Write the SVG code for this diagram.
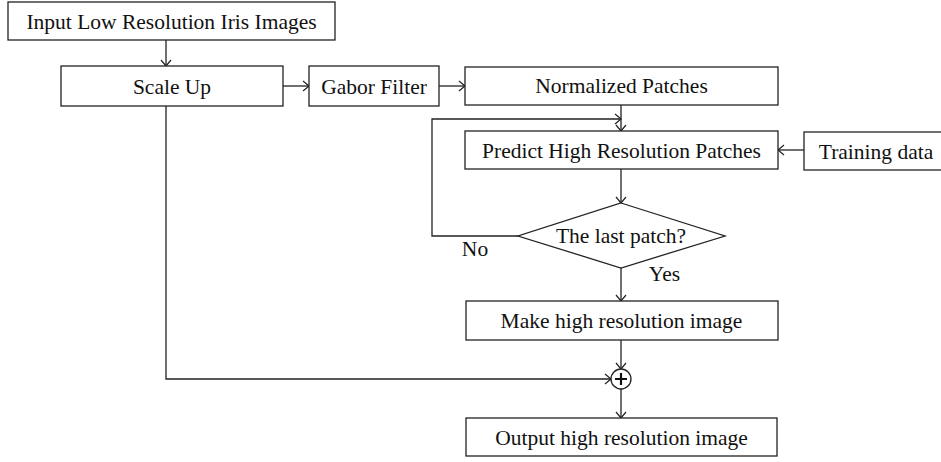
<svg xmlns="http://www.w3.org/2000/svg" width="941" height="462" viewBox="0 0 941 462">
<defs>
<marker id="arr" viewBox="-8 -6 10 12" refX="0" refY="0" markerWidth="10" markerHeight="12" markerUnits="userSpaceOnUse" orient="auto">
<path d="M-6,-5 L0,0 L-6,5" fill="none" stroke="#222" stroke-width="1.2"/>
</marker>
</defs>
<style>
.box{fill:#fff;stroke:#222;stroke-width:1.3}
.t{font-family:"Liberation Serif","Times New Roman",serif;font-size:21.5px;fill:#111;text-anchor:middle}
.c{fill:none;stroke:#222;stroke-width:1.3;marker-end:url(#arr)}
.l{fill:none;stroke:#222;stroke-width:1.3}
</style>
<rect width="941" height="462" fill="#fff"/>
<g id="connectors">
<path class="c" d="M166,40 V66"/>
<path class="c" d="M283,86 H309"/>
<path class="c" d="M439,86 H465"/>
<path class="c" d="M621,105 V131"/>
<path class="c" d="M518,236 H432 V119 H621"/>
<path class="c" d="M804,150 H778"/>
<path class="c" d="M621,169 V203"/>
<path class="c" d="M621,268 V301"/>
<path class="c" d="M621,340 V369"/>
<path class="c" d="M166,106 V379 H611"/>
<path class="c" d="M621,389 V418"/>
</g>
<g id="input"><rect class="box" x="8" y="2" width="327" height="38"/><text class="t" x="171.5" y="28.5">Input Low Resolution Iris Images</text></g>
<g id="scaleup"><rect class="box" x="61" y="66" width="222" height="40"/><text class="t" x="172" y="93.5">Scale Up</text></g>
<g id="gabor"><rect class="box" x="309" y="66" width="130" height="40"/><text class="t" x="374" y="93.5">Gabor Filter</text></g>
<g id="normalized"><rect class="box" x="465" y="67" width="313" height="38"/><text class="t" x="621.5" y="93">Normalized Patches</text></g>
<g id="predict"><rect class="box" x="465" y="131" width="313" height="38"/><text class="t" x="621.5" y="157.5">Predict High Resolution Patches</text></g>
<g id="training"><rect class="box" x="804" y="132" width="140" height="38"/><text class="t" x="876" y="158.5">Training data</text></g>
<g id="decision"><polygon class="box" points="621,203 725,236 621,268 518,236"/><text class="t" x="621" y="243">The last patch?</text></g>
<g id="labels"><text class="t" x="475" y="256">No</text><text class="t" x="664.5" y="281">Yes</text></g>
<g id="make"><rect class="box" x="466" y="301" width="312" height="39"/><text class="t" x="621.5" y="328">Make high resolution image</text></g>
<g id="sum"><circle class="box" cx="621" cy="379" r="10"/><path d="M615,379 H627 M621,373 V385" stroke="#111" stroke-width="2.2" fill="none"/></g>
<g id="output"><rect class="box" x="466" y="418" width="311" height="38"/><text class="t" x="621.5" y="444.5">Output high resolution image</text></g>
</svg>
